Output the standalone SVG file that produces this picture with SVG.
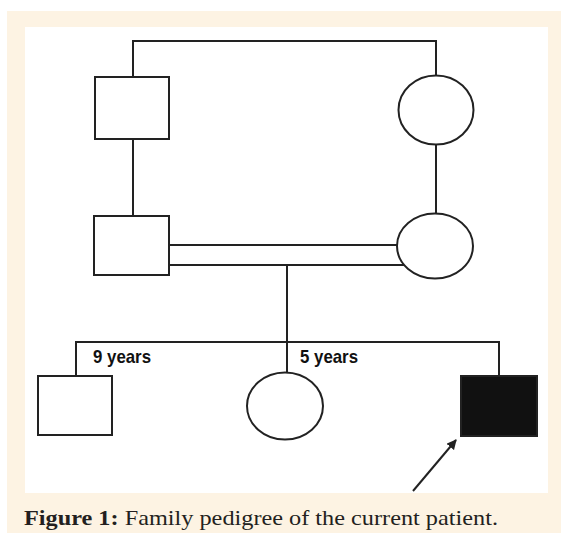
<svg xmlns="http://www.w3.org/2000/svg" width="561" height="533" viewBox="0 0 561 533">
<style>
.s{fill:#fff;stroke:#222;stroke-width:2}
.l{fill:none;stroke:#222;stroke-width:2}
.age{font-family:"Liberation Sans",Arial,sans-serif;font-weight:bold;font-size:19px;fill:#111}
.cap{font-family:"Liberation Serif","Times New Roman",serif;font-size:22px;fill:#231f20}
</style>
<defs>
<marker id="ah" markerWidth="10" markerHeight="10" refX="9" refY="5" orient="auto" markerUnits="userSpaceOnUse">
<path d="M0,0 L10,5 L0,10 z" fill="#222"/>
</marker>
</defs>
<rect x="0" y="0" width="561" height="533" fill="#fff"/>
<rect x="7" y="11" width="554" height="522" fill="#fdf3e3"/>
<rect x="25" y="27" width="523" height="466" fill="#fff"/>
<g id="connectors">
<polyline class="l" points="133,77 133,41 436,41 436,75"/>
<line class="l" x1="133" y1="139" x2="133" y2="216"/>
<line class="l" x1="436" y1="144" x2="436" y2="213"/>
<line class="l" x1="169" y1="245" x2="397" y2="245"/>
<line class="l" x1="169" y1="265" x2="404" y2="265"/>
<line class="l" x1="287" y1="265" x2="287" y2="373"/>
<polyline class="l" points="76,376 76,342 499,342 499,376"/>
<line class="l" x1="413" y1="491" x2="456" y2="440" marker-end="url(#ah)"/>
</g>
<g id="gf"><rect class="s" x="95" y="77" width="74" height="62"/></g>
<g id="gm"><ellipse class="s" cx="436" cy="110" rx="37.5" ry="34.5"/></g>
<g id="father"><rect class="s" x="94" y="216" width="75" height="59"/></g>
<g id="mother"><ellipse class="s" cx="435" cy="246" rx="38" ry="32.5"/></g>
<g id="sib1"><rect class="s" x="38" y="376" width="74" height="59"/><text class="age" x="93" y="363" textLength="58" lengthAdjust="spacingAndGlyphs">9 years</text></g>
<g id="sib2"><ellipse class="s" cx="285" cy="406" rx="38" ry="33.5"/><text class="age" x="300" y="363" textLength="58" lengthAdjust="spacingAndGlyphs">5 years</text></g>
<g id="patient"><rect x="461" y="376" width="76" height="60" fill="#111" stroke="#222" stroke-width="2"/></g>
<text class="cap" x="24" y="525" textLength="474" lengthAdjust="spacingAndGlyphs"><tspan font-weight="bold">Figure 1:</tspan> Family pedigree of the current patient.</text>
</svg>
